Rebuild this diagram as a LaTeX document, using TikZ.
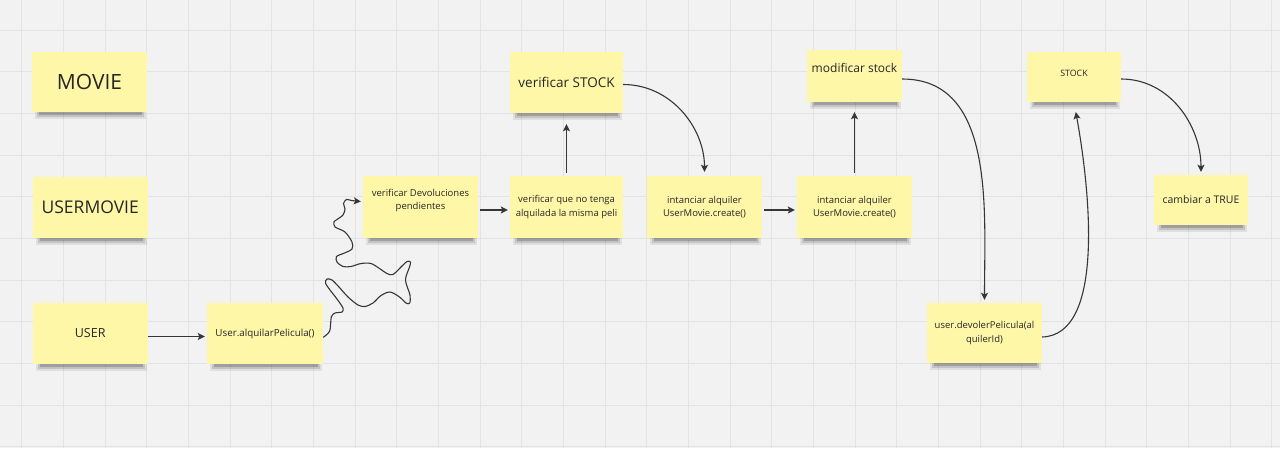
\documentclass[tikz,border=0pt]{standalone}
\usepackage{fontspec}
\setmainfont{Open Sans}
\usetikzlibrary{arrows.meta}
\definecolor{board}{HTML}{F2F2F2}
\definecolor{gridc}{HTML}{E3E3E3}
\definecolor{sticky}{HTML}{FFF7A8}
\definecolor{ink}{HTML}{262626}
\definecolor{wire}{HTML}{363636}
\pgfdeclarelayer{paper}
\pgfdeclarelayer{shade}
\pgfsetlayers{paper,shade,main}

\begin{document}
\begin{tikzpicture}[x=1pt,y=-1pt,
	note/.style={fill=sticky,inner sep=0pt,align=center,text=ink,minimum width=115pt,minimum height=61pt,font=\fontsize{9.5}{13.5}\selectfont},
	conn/.style={draw=wire,line width=1.1pt,-{Stealth[length=7pt,width=7pt,inset=1.5pt]}},
	gridline/.style={draw=gridc,line width=0.8pt}]
	\useasboundingbox (0,0) rectangle (1280,448);
	\begin{pgfonlayer}{paper}
	\fill[board] (0,0) rectangle (1280,448);
	\foreach \i in {0,...,30} \draw[gridline] ({21.7+41.667*\i},0) -- ++(0,448);
	\foreach \j in {0,...,10} \draw[gridline] (0,{30+41.667*\j}) -- ++(1280,0);
	\end{pgfonlayer}

	\node[note,minimum height=60pt,font=\fontsize{21}{25}\selectfont] (movie) at (89.5,82) {MOVIE};
	\node[note,font=\fontsize{17.5}{21}\selectfont] (usermovie) at (90.2,207.5) {USERMOVIE};
	\node[note,font=\fontsize{12.5}{15}\selectfont] (user) at (90.2,333.5) {USER};
	\node[note,minimum width=116pt,font=\fontsize{9.8}{13}\selectfont] (ualq) at (265,333.5) {User.alquilarPelicula()};
	\node[note,minimum height=62pt,text depth=15pt] (verdev) at (420.5,207) {verificar Devoluciones\\pendientes};
	\node[note,minimum width=113pt,minimum height=62pt] (vermisma) at (566.5,207) {verificar que no tenga\\alquilada la misma peli};
	\node[note,minimum width=113pt,font=\fontsize{13.5}{16}\selectfont] (verstock) at (566.5,82.5) {verificar STOCK};
	\node[note,minimum height=62pt] (inst1) at (704.5,207) {intanciar alquiler\\UserMovie.create()};
	\node[note,minimum height=62pt] (inst2) at (854.5,207) {intanciar alquiler\\UserMovie.create()};
	\node[note,minimum width=95pt,minimum height=52pt,text depth=15.5pt,font=\fontsize{12}{15}\selectfont] (modstock) at (854.5,76) {modificar stock};
	\node[note,minimum height=60pt] (devolver) at (984.5,333) {user.devolerPelicula(al\\quilerId)};
	\node[note,minimum width=94pt,minimum height=50pt,text depth=7pt,font=\fontsize{8.8}{11}\selectfont] (stock) at (1074,77) {STOCK};
	\node[note,minimum width=94pt,minimum height=50pt,font=\fontsize{10.5}{13}\selectfont] (cambiar) at (1201,200) {cambiar a TRUE};

	\begin{pgfonlayer}{shade}
	\foreach \n in {movie,usermovie,user,ualq,verdev,vermisma,verstock,inst1,inst2,modstock,devolver,stock,cambiar}{
		\fill[black,opacity=.08] ([xshift=3pt,yshift=-7pt]\n.south west) rectangle ([xshift=-1pt,yshift=10pt]\n.south east);
		\fill[black,opacity=.12] ([xshift=5pt,yshift=-5pt]\n.south west) rectangle ([xshift=-3pt,yshift=10pt]\n.south east);
		\fill[black,opacity=.18] ([xshift=7pt,yshift=-3pt]\n.south west) rectangle ([xshift=-5pt,yshift=10pt]\n.south east);
	}
	\end{pgfonlayer}

	\draw[conn,shorten >=2pt] ([yshift=-3pt]user.east) -- ([yshift=-3pt]ualq.west);
	\draw[conn,shorten >=2pt] plot[smooth,tension=.5] coordinates {([yshift=-3.8pt]ualq.east) (329.7,331) (331.3,317) (335,313) (342,312) (343,308) (337,299) (330,290) (325.5,283) (327,279) (332,280) (339,287) (348,297) (358,305) (365,306.5) (373,303) (381,295.5) (390,292) (399.5,297) (406,303) (409.7,303) (410,295) (405.5,280) (409.5,267) (410.5,262) (407,261.5) (402,266) (393,274.5) (387,273.5) (379.5,268.5) (371,263.5) (361,263.5) (351,266.5) (343,266.5) (337,262) (336.5,256.5) (344.5,253) (352,249) (352,242) (345,232) (335,227) (334,222) (337,219.5) (343,215) (345,209) (343.5,203.5) (346.5,199.5) (351.5,200.5) ([yshift=5.3pt]verdev.west)};
	\draw[conn,shorten <=2pt,shorten >=2pt] ([yshift=-3pt]verdev.east) -- ([yshift=-3pt]vermisma.west);
	\draw[conn,shorten <=3pt,shorten >=11pt] (vermisma.north) -- (verstock.south);
	\draw[conn,shorten >=4pt] ([yshift=-2pt]verstock.east) to[out=0,in=90] (inst1.north);
	\draw[conn,shorten <=2pt,shorten >=2pt] ([yshift=-3pt]inst1.east) -- ([yshift=-3pt]inst2.west);
	\draw[conn,shorten <=3pt,shorten >=10pt] (inst2.north) -- (modstock.south);
	\draw[conn,shorten >=3pt] ([yshift=-3pt]modstock.east) to[out=0,in=90] (devolver.north);
	\draw[conn,shorten >=10pt] ([yshift=-4pt]devolver.east) .. controls +(63,-2) and +(16,88) .. (stock.south);
	\draw[conn,shorten >=3pt] ([yshift=-2pt]stock.east) to[out=0,in=90] (cambiar.north);
\end{tikzpicture}
\end{document}
